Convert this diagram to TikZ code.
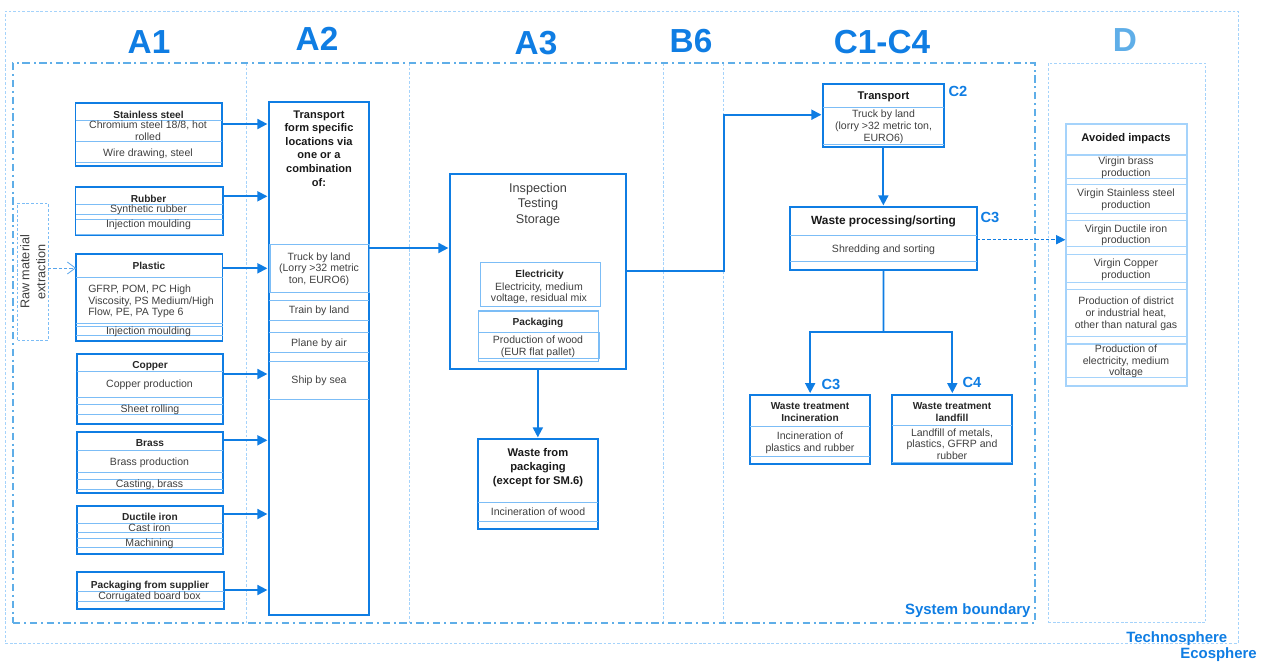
\documentclass[tikz,border=0pt]{standalone}
\usepackage{fontspec}
\setmainfont{Liberation Sans}
\usetikzlibrary{fit,arrows.meta}
\definecolor{mainblue}{HTML}{0F7DE3}
\definecolor{rowblue}{HTML}{7CBDF6}
\definecolor{paleblue}{HTML}{A5D3FB}
\definecolor{dblue}{HTML}{5FAEE8}
\definecolor{txt}{HTML}{3F3F3F}
\def\st{\vrule width0pt height .92em depth .2em\relax}
\tikzset{
  allnodes/.style={inner sep=0pt,align=center,execute at begin node=\st,execute at end node=\st},
  ml/.style={yshift=-1.1pt},
  tx/.style={allnodes,text=txt,font=\fontsize{7.9}{8.8}\selectfont},
  hd/.style={allnodes,text=black!85,font=\fontsize{7.6}{8.8}\selectfont\bfseries},
  hdb/.style={allnodes,text=black!90,font=\fontsize{8.4}{10.1}\selectfont\bfseries},
  insptx/.style={allnodes,text=txt,font=\fontsize{9.5}{11.6}\selectfont},
  stage/.style={allnodes,text=mainblue,font=\fontsize{25}{28}\selectfont\bfseries},
  clabel/.style={allnodes,text=mainblue,font=\fontsize{11}{12}\selectfont\bfseries},
  blabel/.style={allnodes,text=mainblue,font=\fontsize{11.2}{12}\selectfont\bfseries},
  mainbox/.style={draw=mainblue,line width=1.35pt,inner sep=0pt,outer sep=0pt,fill=none},
  lightbox/.style={draw=rowblue,line width=0.9pt,inner sep=0pt,outer sep=0pt},
  palebox/.style={draw=paleblue,line width=1.5pt,inner sep=0pt,outer sep=0pt},
  rowline/.style={draw=rowblue,line width=0.75pt},
  sysb/.style={draw=dblue,line width=0.9pt,dash pattern=on 5.5pt off 2.8pt on 1.5pt off 2.8pt,inner sep=0pt,outer sep=0pt},
  dotb/.style={draw=paleblue,line width=0.75pt,dash pattern=on 2pt off 1.4pt,inner sep=0pt,outer sep=0pt},
  conn/.style={draw=mainblue,line width=1.35pt},
  arr/.style={conn,-{Triangle[length=7.5pt,width=7.5pt]},shorten >=1.2pt},
  dasharr/.style={draw=mainblue,line width=0.6pt,dash pattern=on 2.5pt off 1.5pt,-{Triangle[length=7pt,width=7pt]},shorten >=0.5pt},
  openarr/.style={draw=mainblue!70,line width=0.6pt,dash pattern=on 2.5pt off 1.5pt,-{Straight Barb[length=6pt,width=9pt]}}
}
\newcommand{\rows}[2]{\foreach \yy in {#2}{\draw[rowline] (#1.west |- 0,\yy) -- (#1.east |- 0,\yy);}}
\begin{document}
\begin{tikzpicture}[x=0.75pt,y=-0.75pt]
\useasboundingbox (0,0) rectangle (1264,662);

% boundaries
\node[dotb,fit={(5.3,11) (1238,643.4)}] (techno) {};
\foreach \xx in {246.5,409.5,663,723}{\draw[dotb] (\xx,63) -- (\xx,623);}
\node[sysb,fit={(13,63) (1035,623)}] (sys) {};
\node[dotb,fit={(1048.3,63) (1205.7,622.7)}] (dzone) {};

% stage headings
\node[stage] (sA1) at (149,41) {A1};
\node[stage] (sA2) at (317,38) {A2};
\node[stage] (sA3) at (536,42) {A3};
\node[stage] (sB6) at (691,40) {B6};
\node[stage] (sC)  at (882,41) {C1-C4};
\node[stage,text=dblue] (sD) at (1125,39) {D};

% raw material
\node[dotb,draw=rowblue,fit={(17.7,203.3) (48,340)}] (raw) {};
\node[allnodes,text=txt,rotate=90,font=\fontsize{9.5}{12}\selectfont] (rawt) at (34,272) {Raw material\\extraction};

% transport column
\node[mainbox,fit={(269,101.7) (369,614.7)}] (tr) {};
\node[hdb,ml,font=\fontsize{8.3}{10.15}\selectfont\bfseries] (trt) at (319,148) {Transport\\form specific\\locations via\\one or a\\combination\\of:};
\node[lightbox,fit={(270,244.3) (369.5,292.3)}] (trk) {};
\node[tx,ml] (trkt) at (319,267.7) {Truck by land\\(Lorry >32 metric\\ton, EURO6)};
\rows{tr}{300.7,320.3,332.7,352.3,361,399.3}
\node[tx] (trn) at (319,310) {Train by land};
\node[tx] (pln) at (319,342.5) {Plane by air};
\node[tx] (shp) at (319,380) {Ship by sea};

% Stainless
\node[mainbox,fit={(75.5,103) (222,165.6)}] (ss) {};
\rows{ss}{120,141.7,162}
\node[hd] (sst) at (148.5,114.5) {Stainless steel};
\node[tx,ml] (ss1) at (148,130.3) {Chromium steel 18/8, hot\\rolled};
\node[tx] (ss2) at (148,152.5) {Wire drawing, steel};
% Rubber
\node[mainbox,fit={(75.5,186.7) (223,235.3)}] (rb) {};
\rows{rb}{204.3,214.3,219.3,234}
\node[hd] (rbt) at (148.5,199) {Rubber};
\node[tx] (rb1) at (148.5,209) {Synthetic rubber};
\node[tx] (rb2) at (148.5,224) {Injection moulding};
% Plastic
\node[mainbox,fit={(76,254) (222.5,341)}] (pl) {};
\rows{pl}{277.3,323.3,326.7,335.7}
\node[hd] (plt) at (149,265.5) {Plastic};
\node[tx,ml,align=left,anchor=west] (pl1) at (88,300) {GFRP, POM, PC High\\Viscosity, PS Medium/High\\Flow, PE, PA Type 6};
\node[tx] (pl2) at (148.5,330.5) {Injection moulding};
% Copper
\node[mainbox,fit={(77,353.7) (223,424.3)}] (cu) {};
\rows{cu}{371.3,397.3,404.7,414.3}
\node[hd] (cut) at (150,365) {Copper};
\node[tx] (cu1) at (149.5,384) {Copper production};
\node[tx] (cu2) at (150,409) {Sheet rolling};
% Brass
\node[mainbox,fit={(77,432.3) (223,493.3)}] (br) {};
\rows{br}{450.3,472.3,479.3,489.7}
\node[hd] (brt) at (150,443.3) {Brass};
\node[tx] (br1) at (149.5,461.3) {Brass production};
\node[tx] (br2) at (149.5,484) {Casting, brass};
% Ductile
\node[mainbox,fit={(77,505.7) (223,554.3)}] (di) {};
\rows{di}{523.3,532.7,538.3,547.3}
\node[hd] (dit) at (150,517) {Ductile iron};
\node[tx] (di1) at (149.5,528) {Cast iron};
\node[tx] (di2) at (149.5,543) {Machining};
% Packaging from supplier
\node[mainbox,fit={(77,572.3) (224,609.3)}] (ps) {};
\rows{ps}{591.3,601}
\node[hd] (pst) at (150,584.5) {Packaging from supplier};
\node[tx] (ps1) at (149.5,596) {Corrugated board box};

% Inspection
\node[mainbox,fit={(450,173.7) (625.7,369.3)}] (insp) {};
\node[insptx,ml] (inspt) at (538,203) {Inspection\\Testing\\Storage};
\node[lightbox,fit={(480.3,262.3) (600.3,306.3)}] (el) {};
\node[hd] (elt) at (539.5,274) {Electricity};
\node[tx,ml] (el1) at (539,291.8) {Electricity, medium\\voltage, residual mix};
\node[lightbox,fit={(478.7,311) (598.3,361.3)}] (pk) {};
\node[lightbox,fit={(478.7,332.7) (599.5,358.3)}] (pkin) {};
\node[hd] (pkt) at (538,322) {Packaging};
\node[tx,ml] (pk1) at (538,345) {Production of wood\\(EUR flat pallet)};
% Waste packaging
\node[mainbox,fit={(478.3,439) (598.3,529)}] (wst) {};
\rows{wst}{502.7,521.3}
\node[hdb,ml,font=\fontsize{8.4}{10.5}\selectfont\bfseries] (wstt) at (538,465.7) {Waste from\\packaging\\(except for SM.6)};
\node[tx] (wst1) at (538,512) {Incineration of wood};

% C boxes
\node[mainbox,fit={(823,83.7) (943.7,147)}] (trc) {};
\rows{trc}{107.3,144}
\node[hdb] (trct) at (883.5,96) {Transport};
\node[tx,ml] (trc1) at (883.5,125.2) {Truck by land\\(lorry >32 metric ton,\\EURO6)};
\node[clabel] (c2) at (958,91) {C2};

\node[mainbox,fit={(790.3,207) (976.7,270.3)}] (wp) {};
\rows{wp}{235.3,261.3}
\node[hdb,font=\fontsize{8.9}{10}\selectfont\bfseries] (wpt) at (883.5,220.5) {Waste processing/sorting};
\node[tx] (wp1) at (883.5,249) {Shredding and sorting};
\node[clabel] (c3a) at (990,217) {C3};

\node[mainbox,fit={(750,394.7) (870.3,464)}] (inc) {};
\rows{inc}{426.7,456.3}
\node[hd,ml] (inct) at (810,411.5) {Waste treatment\\Incineration};
\node[tx,ml] (inc1) at (810,441.5) {Incineration of\\plastics and rubber};
\node[clabel] (c3b) at (831,384) {C3};

\node[mainbox,fit={(892.3,394.7) (1012.3,464)}] (lf) {};
\rows{lf}{425.3,462.3}
\node[hd,ml] (lft) at (952,411.5) {Waste treatment\\landfill};
\node[tx,ml] (lf1) at (952,443.5) {Landfill of metals,\\plastics, GFRP and\\rubber};
\node[clabel] (c4) at (972,382) {C4};

% Avoided impacts
\node[palebox,fit={(1066,124) (1186.7,385.7)}] (av) {};
\foreach \yy in {155,178.3,184.3,213.3,220.7,246.7,254.3,282.3,289.3,336.7,344,377.3}{\draw[paleblue,line width=0.9pt] (av.west |- 0,\yy) -- (av.east |- 0,\yy);}
\node[hdb] (avt) at (1126,137.3) {Avoided impacts};
\node[tx,ml] (av1) at (1126,166.5) {Virgin brass\\production};
\node[tx,ml] (av2) at (1126,198.5) {Virgin Stainless steel\\production};
\node[tx,ml] (av3) at (1126,233.8) {Virgin Ductile iron\\production};
\node[tx,ml] (av4) at (1126,268.3) {Virgin Copper\\production};
\node[tx,ml] (av5) at (1126,312.5) {Production of district\\or industrial heat,\\other than natural gas};
\node[tx,ml] (av6) at (1126,360) {Production of\\electricity, medium\\voltage};

% connectors
\draw[arr] (ss.east |- 0,124) -- (tr.west |- 0,124);
\draw[arr] (rb.east |- 0,196.3) -- (tr.west |- 0,196.3);
\draw[arr] (pl.east |- 0,268.3) -- (tr.west |- 0,268.3);
\draw[arr] (cu.east |- 0,374) -- (tr.west |- 0,374);
\draw[arr] (br.east |- 0,440.3) -- (tr.west |- 0,440.3);
\draw[arr] (di.east |- 0,514) -- (tr.west |- 0,514);
\draw[arr] (ps.east |- 0,590) -- (tr.west |- 0,590);
\draw[openarr] (raw.east |- 0,268) -- (pl.west |- 0,268);
\draw[arr] (tr.east |- 0,248) -- (insp.west |- 0,248);
\draw[arr] (insp.south) -- (insp.south |- wst.north);
\coordinate (bend) at (724,271);
\draw[arr] (insp.east |- bend) -- (bend) |- (trc.west |- 0,114.7);
\draw[arr] (trc.south) -- (trc.south |- wp.north);
\coordinate (jn) at (883.5,332.3);
\draw[conn] (wp.south) -- (jn);
\draw[arr] (jn) -| (inc.north);
\draw[arr] (jn) -| (lf.north);
\draw[dasharr] (wp.east |- 0,239.7) -- (av.west |- 0,239.7);

% boundary labels
\node[blabel,anchor=east] (lsys) at (1030.7,609.5) {System boundary};
\node[blabel,anchor=east] (ltec) at (1227.5,637.5) {Technosphere};
\node[blabel,anchor=east] (leco) at (1257,653) {Ecosphere};
\end{tikzpicture}
\end{document}
